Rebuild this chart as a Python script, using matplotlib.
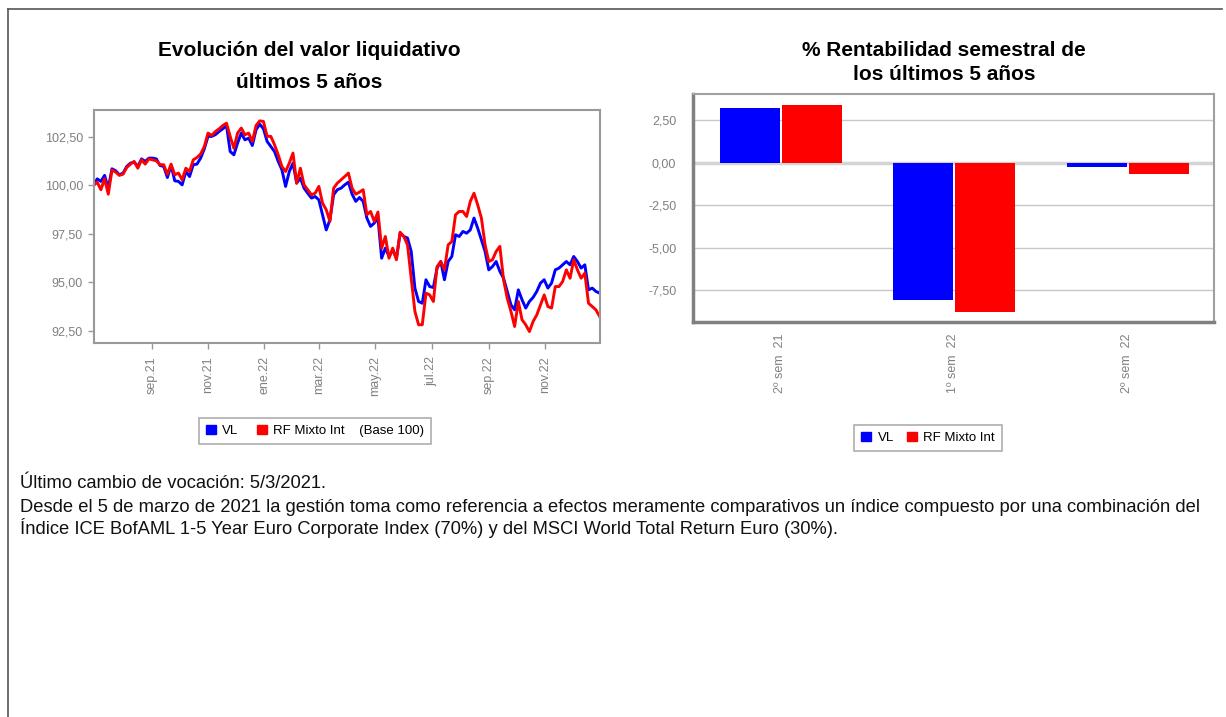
import matplotlib
matplotlib.use('Agg')
import matplotlib.pyplot as plt
from matplotlib.patches import Patch
from matplotlib.lines import Line2D
import numpy as np
import pandas as pd

plt.rcParams['font.family'] = ['Liberation Sans', 'DejaVu Sans']

# datos grafico izquierdo (base 100)
fechas = pd.date_range('2021-06-30', periods=138, freq='4D')
vl = [100.00, 100.34, 100.21, 100.52, 99.86, 100.86, 100.76, 100.55, 100.64, 100.98,
      101.15, 101.20, 100.98, 101.37, 101.24, 101.41, 101.41, 101.37, 101.03, 100.98,
      100.41, 101.03, 100.24, 100.21, 100.03, 100.72, 100.46, 101.07, 101.10, 101.41,
      101.89, 102.53, 102.53, 102.62, 102.78, 102.92, 103.09, 101.75, 101.58, 102.18,
      102.70, 102.35, 102.44, 102.06, 102.87, 103.16, 102.92, 102.27, 102.01, 101.75,
      101.24, 100.81, 99.95, 100.72, 101.15, 100.12, 100.38, 99.86, 99.60, 99.35,
      99.43, 99.26, 98.49, 97.71, 98.23, 99.52, 99.78, 99.86, 100.03, 100.17,
      99.55, 99.18, 99.38, 99.18, 98.32, 97.89, 98.06, 98.32, 96.25, 96.77,
      96.34, 96.68, 96.25, 97.54, 97.37, 97.29, 96.60, 94.71, 94.02, 93.93,
      95.14, 94.79, 94.74, 95.74, 96.08, 95.14, 96.08, 96.34, 97.46, 97.37,
      97.63, 97.54, 97.71, 98.32, 97.80, 97.20, 96.60, 95.65, 95.82, 96.08,
      95.57, 95.22, 94.54, 93.85, 93.59, 94.62, 94.11, 93.68, 94.02, 94.23,
      94.54, 94.97, 95.14, 94.71, 94.97, 95.65, 95.74, 95.91, 96.08, 95.91,
      96.34, 96.08, 95.74, 95.91, 94.62, 94.71, 94.54, 94.45]
rf = [100.00, 100.17, 99.78, 100.34, 99.55, 100.79, 100.69, 100.52, 100.58, 100.93,
      101.10, 101.24, 100.89, 101.32, 101.10, 101.37, 101.32, 101.27, 101.07, 101.07,
      100.58, 101.10, 100.55, 100.64, 100.29, 100.89, 100.72, 101.32, 101.44, 101.62,
      102.01, 102.70, 102.58, 102.78, 102.92, 103.09, 103.21, 102.53, 101.92, 102.70,
      102.96, 102.61, 102.70, 102.27, 103.09, 103.33, 103.30, 102.53, 102.53, 102.10,
      101.58, 100.98, 100.72, 101.15, 101.67, 100.12, 100.89, 100.03, 99.78, 99.52,
      99.60, 99.95, 99.09, 98.75, 98.15, 99.86, 100.12, 100.29, 100.46, 100.64,
      99.86, 99.55, 99.66, 99.78, 98.49, 98.66, 98.15, 98.63, 96.77, 97.37,
      96.25, 96.77, 96.17, 97.59, 97.37, 96.94, 95.22, 93.51, 92.82, 92.82,
      94.45, 94.36, 94.02, 95.82, 96.08, 95.65, 96.94, 97.11, 98.49, 98.66,
      98.66, 98.40, 99.18, 99.60, 99.00, 98.32, 96.94, 96.08, 96.17, 96.60,
      96.86, 95.14, 94.19, 93.51, 92.73, 94.02, 93.08, 92.82, 92.47, 92.99,
      93.33, 93.85, 94.36, 93.76, 93.68, 94.79, 94.79, 95.05, 95.65, 95.22,
      96.17, 95.65, 95.22, 95.48, 93.93, 93.76, 93.59, 93.25]

tick_fechas = pd.to_datetime(['2021-09-01', '2021-11-01', '2022-01-01', '2022-03-01',
                              '2022-05-01', '2022-07-01', '2022-09-01', '2022-11-01'])
tick_meses = ['sep.21', 'nov.21', 'ene.22', 'mar.22', 'may.22', 'jul.22', 'sep.22', 'nov.22']
yticks_izq = [92.5, 95.0, 97.5, 100.0, 102.5]

# datos grafico derecho
semestres = ['2º sem  21', '1º sem  22', '2º sem  22']
rent_vl = [3.18, -8.10, -0.24]
rent_rf = [3.41, -8.80, -0.65]
yticks_der = [-7.5, -5.0, -2.5, 0.0, 2.5]

W, H = 1226, 717
azul = '#0000ff'
rojo = '#ff0000'
gris = '#808080'


def caja(x0, y0, x1, y1):
    # pixeles (origen arriba-izquierda) -> fraccion de figura
    return [x0 / W, 1 - y1 / H, (x1 - x0) / W, (y1 - y0) / H]


def coma(v):
    return f'{v:.2f}'.replace('.', ',')


fig = plt.figure(figsize=(W / 100, H / 100), dpi=100)

# marco de la pagina
fig.add_artist(Line2D([8 / W, 1222 / W], [1 - 9 / H, 1 - 9 / H], color='#555555', lw=1.2))
fig.add_artist(Line2D([8 / W, 8 / W], [1 - 9 / H, 0], color='#555555', lw=1.2))

# ---- valor liquidativo ----
ax1 = fig.add_axes(caja(93.5, 110, 599.6, 343))
ax1.plot(fechas, vl, color=azul, lw=2.1)
ax1.plot(fechas, rf, color=rojo, lw=2.1)
ax1.set_xlim(fechas[0], fechas[-1])
ax1.set_ylim(91.88, 103.89)
ax1.set_yticks(yticks_izq)
ax1.set_yticklabels([coma(v) for v in yticks_izq])
ax1.set_xticks(tick_fechas)
ax1.set_xticklabels(tick_meses, rotation=90)
ax1.tick_params(axis='both', color='#999999', length=4.5, width=1, labelsize=9, labelcolor=gris)
ax1.tick_params(axis='y', pad=3)
ax1.tick_params(axis='x', pad=5)
for s in ax1.spines.values():
    s.set_color('#999999')
    s.set_linewidth(1.5)

fig.text(309 / W, 1 - 50 / H, 'Evolución del valor liquidativo', ha='center', va='center',
         fontsize=15, fontweight='bold')
fig.text(309 / W, 1 - 82 / H, 'últimos 5 años', ha='center', va='center',
         fontsize=15, fontweight='bold')

leg1 = ax1.legend(handles=[Patch(color=azul, label='VL'),
                           Patch(color=rojo, label='RF Mixto Int    (Base 100)')],
                  ncol=2, loc='center', bbox_to_anchor=(315 / W, 1 - 431 / H),
                  bbox_transform=fig.transFigure, fontsize=9.5, frameon=True, fancybox=False,
                  edgecolor='#999999', handlelength=0.75, handleheight=0.75, handletextpad=0.5,
                  columnspacing=1.4, borderpad=0.5)
leg1.get_frame().set_linewidth(1.2)

# ---- rentabilidad semestral ----
ax2 = fig.add_axes(caja(693, 94, 1214, 322))
x = np.arange(len(semestres))
ax2.bar(x - 0.174, rent_vl, 0.345, color=azul, zorder=3)
ax2.bar(x + 0.183, rent_rf, 0.345, color=rojo, zorder=3)
ax2.set_xlim(-0.5, 2.5)
ax2.set_ylim(-9.38, 4.03)
ax2.set_yticks(yticks_der)
ax2.set_yticklabels([coma(v) for v in yticks_der])
ax2.set_xticks(x)
ax2.set_xticklabels(semestres, rotation=90)
ax2.yaxis.grid(True, color='#c8c8c8', lw=1, zorder=0)
ax2.set_axisbelow(True)
ax2.axhline(0, color='#d4d4d4', lw=2.5, zorder=2)
ax2.tick_params(axis='both', length=0, labelsize=9, labelcolor=gris)
ax2.tick_params(axis='y', pad=12)
ax2.tick_params(axis='x', pad=8)
for lado in ['left', 'bottom']:
    ax2.spines[lado].set_color('#808080')
    ax2.spines[lado].set_linewidth(2.5)
for lado in ['top', 'right']:
    ax2.spines[lado].set_color('#a0a0a0')
    ax2.spines[lado].set_linewidth(1.5)

fig.text(944 / W, 1 - 50 / H, '% Rentabilidad semestral de', ha='center', va='center',
         fontsize=15, fontweight='bold')
fig.text(944 / W, 1 - 74 / H, 'los últimos 5 años', ha='center', va='center',
         fontsize=15, fontweight='bold')

leg2 = ax2.legend(handles=[Patch(color=azul, label='VL'), Patch(color=rojo, label='RF Mixto Int')],
                  ncol=2, loc='center', bbox_to_anchor=(928 / W, 1 - 438 / H),
                  bbox_transform=fig.transFigure, fontsize=9.5, frameon=True, fancybox=False,
                  edgecolor='#999999', handlelength=0.75, handleheight=0.75, handletextpad=0.5,
                  columnspacing=1.0, borderpad=0.5)
leg2.get_frame().set_linewidth(1.2)

# ---- texto inferior ----
fig.text(20 / W, 1 - 483 / H, 'Último cambio de vocación: 5/3/2021.', ha='left', va='center',
         fontsize=13.2, color='#111111')
fig.text(20 / W, 1 - 507 / H,
         'Desde el 5 de marzo de 2021 la gestión toma como referencia a efectos meramente '
         'comparativos un índice compuesto por una combinación del',
         ha='left', va='center', fontsize=13.2, color='#111111')
fig.text(20 / W, 1 - 528 / H,
         'Índice ICE BofAML 1-5 Year Euro Corporate Index (70%) y del MSCI World Total Return Euro (30%).',
         ha='left', va='center', fontsize=13.2, color='#111111')

fig.savefig('out.png', dpi=100)
